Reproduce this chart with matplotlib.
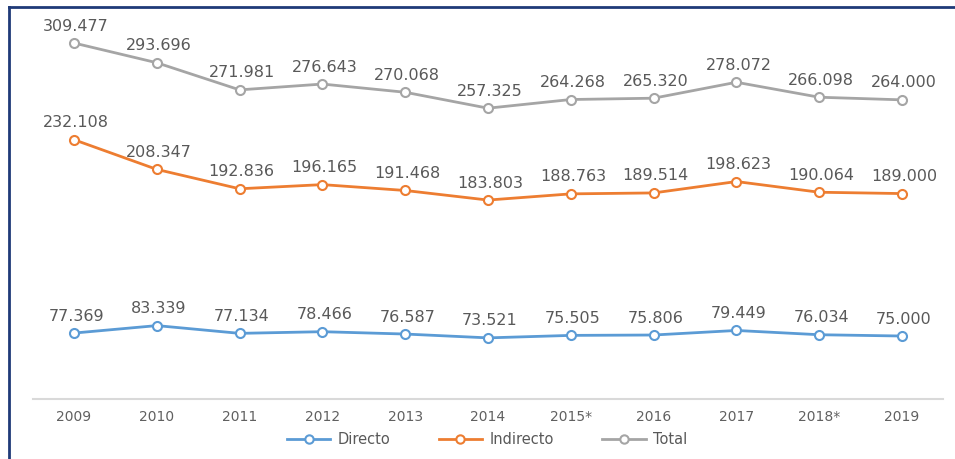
import matplotlib
matplotlib.use("Agg")
import matplotlib.pyplot as plt
from matplotlib.lines import Line2D

years = ["2009", "2010", "2011", "2012", "2013", "2014", "2015*", "2016", "2017", "2018*", "2019"]
directo = [77.369, 83.339, 77.134, 78.466, 76.587, 73.521, 75.505, 75.806, 79.449, 76.034, 75.000]
indirecto = [232.108, 208.347, 192.836, 196.165, 191.468, 183.803, 188.763, 189.514, 198.623, 190.064, 189.000]
total = [309.477, 293.696, 271.981, 276.643, 270.068, 257.325, 264.268, 265.320, 278.072, 266.098, 264.000]

series = [("Directo", directo, "#5B9BD5"),
          ("Indirecto", indirecto, "#ED7D31"),
          ("Total", total, "#A5A5A5")]

plt.rcParams['font.family'] = ['DejaVu Sans']
label_color = "#595959"

fig = plt.figure(figsize=(9.55, 4.59), dpi=100)
ax = fig.add_axes([32.6 / 955, 60 / 459, (943.4 - 32.6) / 955, (399 - 20) / 459])

x = list(range(len(years)))
for name, vals, col in series:
    ax.plot(x, vals, color=col, lw=2.0, marker="o", markersize=6.5,
            markerfacecolor="white", markeredgecolor=col, markeredgewidth=1.5,
            label=name, solid_capstyle="round", zorder=3)
    for xi, v in zip(x, vals):
        ax.annotate(f"{v:.3f}", (xi, v), xytext=(1.5, 12.2), textcoords="offset points",
                    ha="center", va="center", fontsize=11.5, color=label_color)

ax.set_xlim(-0.5, len(years) - 0.5)
ax.set_ylim(24.6, 327.9)
ax.set_xticks(x)
ax.set_xticklabels(years, fontsize=10, color="#606060")
ax.tick_params(axis="x", length=0, pad=8)
ax.set_yticks([])
for s in ["top", "right", "left"]:
    ax.spines[s].set_visible(False)
ax.spines["bottom"].set_color("#D9D9D9")
ax.spines["bottom"].set_linewidth(1.5)

handles = [Line2D([], [], color=c, lw=2.0, marker="o", markersize=6,
                  markerfacecolor="white", markeredgecolor=c, markeredgewidth=1.5)
           for _, _, c in series]
fig.legend(handles, [n for n, _, _ in series], loc="center",
           bbox_to_anchor=(487 / 955, 1 - 440 / 459), ncol=3, frameon=False,
           fontsize=10.5, labelcolor=label_color, handlelength=3.0,
           handletextpad=0.5, columnspacing=3.3)

# frame border (left and top)
fig.add_artist(Line2D([9 / 955, 9 / 955], [0, 1 - 7 / 459], transform=fig.transFigure,
                      color="#1F3A78", lw=2))
fig.add_artist(Line2D([9 / 955, 1], [1 - 7 / 459, 1 - 7 / 459], transform=fig.transFigure,
                      color="#1F3A78", lw=2))

fig.savefig("out.png", dpi=100)
